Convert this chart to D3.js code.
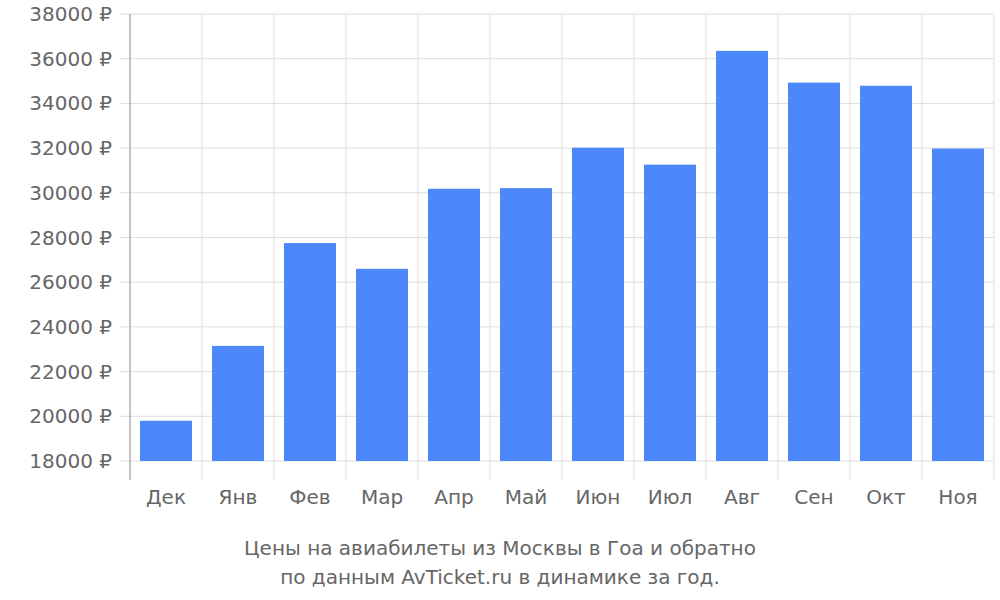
<!DOCTYPE html>
<html><head><meta charset="utf-8">
<script src="https://cdn.jsdelivr.net/npm/d3@7"></script>
<style>body{margin:0;background:#fff}text{font-family:"DejaVu Sans";fill:#666}</style>
</head><body><svg width="1000" height="600"></svg>
<script>
const categories=["Дек","Янв","Фев","Мар","Апр","Май","Июн","Июл","Авг","Сен","Окт","Ноя"];
const prices=[19800,23150,27750,26600,30180,30210,32020,31260,36350,34930,34790,31980];
const yTicks=[18000,20000,22000,24000,26000,28000,30000,32000,34000,36000,38000];
const titleLines=["Цены на авиабилеты из Москвы в Гоа и обратно","по данным AvTicket.ru в динамике за год."];

const svg=d3.select("svg");
const L=130,R=994,T=14,B=461,Bext=480;
const x=d3.scaleBand().domain(categories).range([L,R]);
const y=d3.scaleLinear().domain([18000,38000]).range([B,T]);
const g=svg.append("g");
g.selectAll(".h").data(yTicks).join("line").attr("x1",L-10).attr("x2",R).attr("y1",d=>y(d)).attr("y2",d=>y(d)).attr("stroke","#ddd");
const bounds=categories.map(c=>x(c)).concat([R]);
g.selectAll(".v").data(bounds).join("line").attr("x1",d=>d).attr("x2",d=>d).attr("y1",T).attr("y2",Bext).attr("stroke","#ddd");
g.selectAll("rect").data(prices).join("rect")
 .attr("x",(d,i)=>x(categories[i])+10).attr("width",x.bandwidth()-20)
 .attr("y",d=>y(d)).attr("height",d=>B-y(d)).attr("fill","#4d88fa");
g.append("line").attr("x1",L).attr("x2",L).attr("y1",T).attr("y2",Bext).attr("stroke","#999");
g.selectAll(".yl").data(yTicks).join("text").attr("x",L-18).attr("y",d=>y(d)).attr("dy","0.35em")
 .attr("text-anchor","end").attr("font-size",20).text(d=>d+" ₽");
g.selectAll(".xl").data(categories).join("text").attr("x",d=>x(d)+x.bandwidth()/2).attr("y",504)
 .attr("text-anchor","middle").attr("font-size",20).text(d=>d);
g.selectAll(".t").data(titleLines).join("text").attr("x",500).attr("y",(d,i)=>555+i*29)
 .attr("text-anchor","middle").attr("font-size",20).text(d=>d);
</script></body></html>
